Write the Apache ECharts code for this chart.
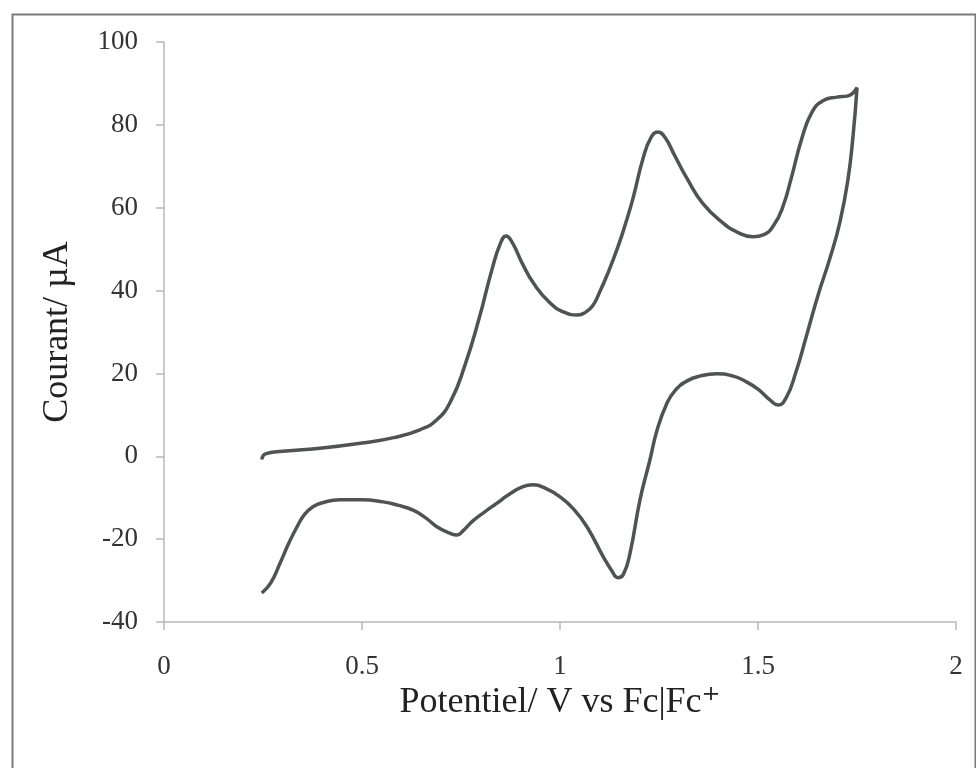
<!DOCTYPE html>
<html>
<head>
<meta charset="utf-8">
<title>Voltammogramme cyclique</title>
<script src="https://cdn.jsdelivr.net/npm/echarts@6/dist/echarts.min.js"></script>
<style>
  html, body { margin: 0; padding: 0; background: #ffffff; }
  #chart { width: 976px; height: 768px; }
</style>
</head>
<body>
<div id="chart"></div>
<script>
// Forward (anodic) scan: potential in V vs Fc|Fc+, current in µA
const forwardPotential = [0.247, 0.256, 0.30, 0.40, 0.50, 0.58, 0.646, 0.689, 0.725, 0.760, 0.795, 0.828, 0.850, 0.864, 0.880, 0.905, 0.935, 0.975, 1.01, 1.045, 1.065, 1.083, 1.100, 1.120, 1.146, 1.165, 1.185, 1.210, 1.230, 1.247, 1.265, 1.290, 1.321, 1.361, 1.412, 1.45, 1.487, 1.515, 1.540, 1.562, 1.585, 1.610, 1.636, 1.664, 1.699, 1.727, 1.750];
const forwardCurrent   = [-0.8, 0.6, 1.2, 2.0, 3.2, 4.5, 6.4, 8.8, 13.5, 22.0, 33.0, 45.0, 51.5, 53.2, 51.5, 46.5, 41.5, 37.0, 34.8, 34.1, 34.8, 36.4, 39.6, 44.0, 50.5, 56.0, 62.5, 72.0, 77.0, 78.3, 77.0, 72.5, 67.0, 61.0, 56.3, 54.0, 53.0, 53.5, 55.8, 60.0, 67.5, 76.5, 83.0, 85.8, 86.7, 87.0, 89.0];

// Reverse (cathodic) scan
const reversePotential = [1.750, 1.740, 1.727, 1.707, 1.682, 1.652, 1.621, 1.596, 1.571, 1.551, 1.530, 1.500, 1.472, 1.44, 1.396, 1.355, 1.321, 1.290, 1.270, 1.245, 1.227, 1.202, 1.177, 1.160, 1.146, 1.130, 1.109, 1.068, 1.035, 1.0, 0.965, 0.932, 0.905, 0.870, 0.841, 0.810, 0.780, 0.755, 0.740, 0.720, 0.689, 0.660, 0.629, 0.590, 0.553, 0.50, 0.444, 0.40, 0.376, 0.355, 0.336, 0.315, 0.293, 0.270, 0.247];
const reverseCurrent   = [89.0, 77.3, 66.7, 56.6, 47.9, 39.0, 28.6, 20.4, 14.1, 12.4, 13.6, 16.2, 17.9, 19.3, 19.9, 19.4, 18.2, 15.8, 12.8, 6.3, -0.9, -10.5, -23.3, -28.5, -29.3, -27.5, -24.2, -17.0, -12.8, -9.8, -7.8, -6.9, -7.4, -9.3, -11.3, -13.4, -15.6, -18.0, -19.0, -18.5, -17.0, -14.8, -13.0, -11.8, -11.0, -10.5, -10.5, -11.2, -12.2, -14.0, -17.0, -21.0, -25.8, -30.5, -33.0];

// Axis ticks
const xTicks = [0, 0.5, 1, 1.5, 2];
const yTicks = [-40, -20, 0, 20, 40, 60, 80, 100];

const xAxisTitle = 'Potentiel/ V vs Fc|Fc⁺';
const yAxisTitle = 'Courant/ µA';

// One continuous loop: forward sweep then return sweep
const loop = [];
forwardPotential.forEach((x, i) => loop.push([x, forwardCurrent[i]]));
reversePotential.slice(1).forEach((x, i) => loop.push([x, reverseCurrent[i + 1]]));

const serif = '"Liberation Serif", "DejaVu Serif", serif';
const axisGray = '#b8b8b8';

const chart = echarts.init(document.getElementById('chart'), null, { renderer: 'canvas' });
chart.setOption({
  backgroundColor: '#ffffff',
  animation: false,
  graphic: [{
    type: 'rect',
    left: 10, top: 12,
    shape: { width: 963, height: 770 },
    style: { fill: 'none', stroke: '#7a7a7a', lineWidth: 2 },
    silent: true
  }],
  grid: { left: 164, right: 20, top: 42, bottom: 146, containLabel: false },
  xAxis: {
    type: 'value',
    min: xTicks[0], max: xTicks[xTicks.length - 1], interval: 0.5,
    name: xAxisTitle,
    nameLocation: 'middle',
    nameGap: 50,
    nameTextStyle: { fontFamily: serif, fontSize: 36, color: '#222' },
    axisLine: { show: true, onZero: false, lineStyle: { color: axisGray, width: 1.5 } },
    axisTick: { show: true, inside: false, length: 8, lineStyle: { color: axisGray, width: 1.5 } },
    axisLabel: { fontFamily: serif, fontSize: 27, color: '#333', margin: 31,
                 formatter: v => String(v) },
    splitLine: { show: false }
  },
  yAxis: {
    type: 'value',
    min: yTicks[0], max: yTicks[yTicks.length - 1], interval: 20,
    name: yAxisTitle,
    nameLocation: 'middle',
    nameGap: 88,
    nameTextStyle: { fontFamily: serif, fontSize: 36, color: '#222' },
    axisLine: { show: true, onZero: false, lineStyle: { color: axisGray, width: 1.5 } },
    axisTick: { show: true, inside: false, length: 8, lineStyle: { color: axisGray, width: 1.5 } },
    axisLabel: { fontFamily: serif, fontSize: 27, color: '#333', margin: 26 },
    splitLine: { show: false }
  },
  series: [{
    type: 'line',
    data: loop,
    smooth: 0.5,
    showSymbol: false,
    lineStyle: { color: '#505353', width: 3.5 },
    clip: false
  }]
});
</script>
</body>
</html>
